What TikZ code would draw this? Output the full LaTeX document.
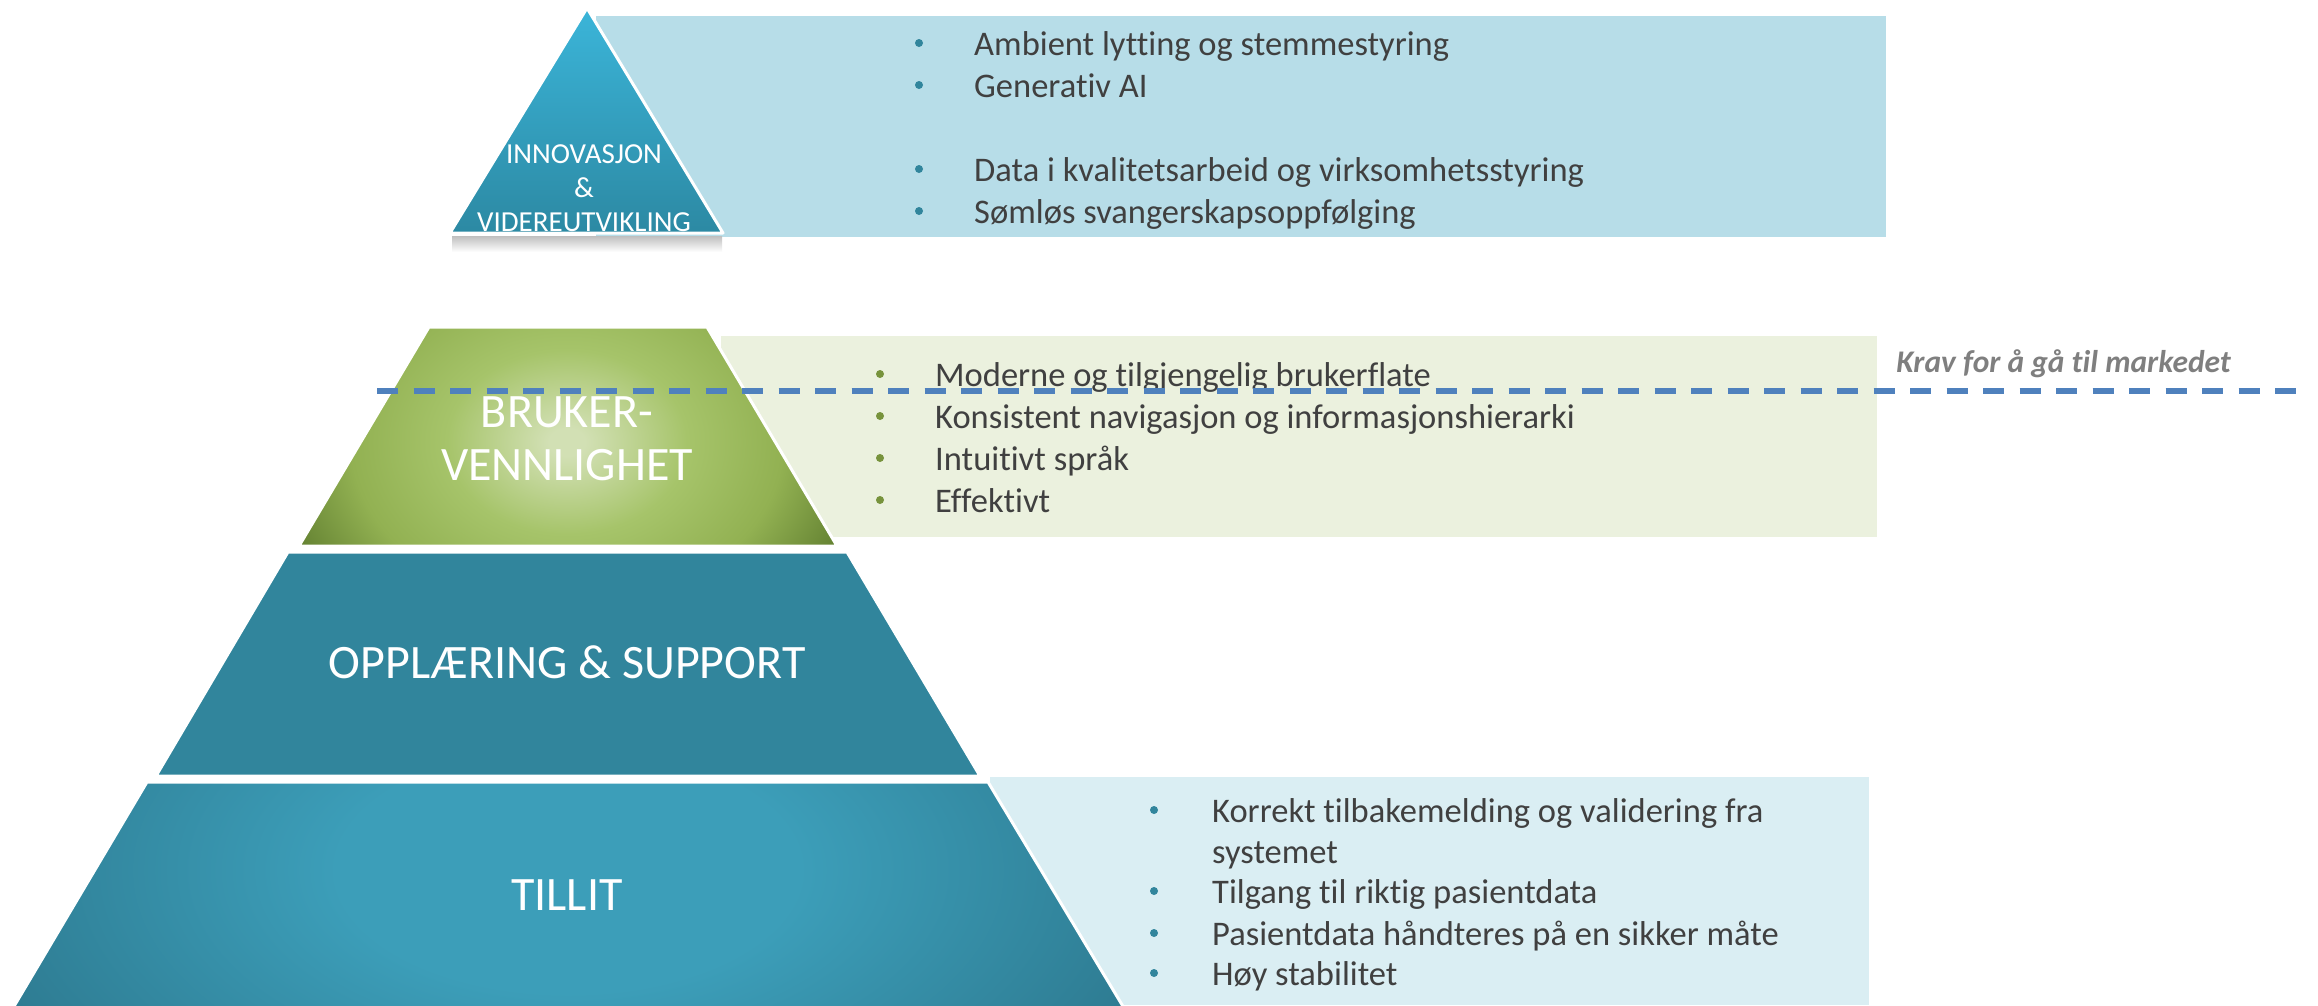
\documentclass[tikz,border=0pt]{standalone}
\usepackage{fontspec}
\setmainfont[Ligatures={NoCommon,NoContextual}]{Carlito}
\usetikzlibrary{positioning,calc}
\definecolor{topblue}{RGB}{59,181,217}
\definecolor{topteal}{RGB}{44,137,163}
\definecolor{innovbox}{RGB}{183,221,232}
\definecolor{brukerlight}{RGB}{210,224,180}
\definecolor{brukermid}{RGB}{166,196,106}
\definecolor{brukerouter}{RGB}{146,177,82}
\definecolor{brukerdark}{RGB}{100,130,50}
\definecolor{brukerbox}{RGB}{235,241,222}
\definecolor{supportteal}{RGB}{49,133,156}
\definecolor{tillitlight}{RGB}{60,158,185}
\definecolor{tillitdark}{RGB}{45,121,143}
\definecolor{tillitbox}{RGB}{218,238,243}
\definecolor{bodygray}{RGB}{64,64,64}
\definecolor{bulletblue}{RGB}{49,133,156}
\definecolor{bulletgreen}{RGB}{119,147,60}
\definecolor{kravblue}{RGB}{79,129,189}
\definecolor{kravgray}{RGB}{127,127,127}
\pgfdeclareradialshading{brukershade}{\pgfpoint{0bp}{0bp}}{color(0bp)=(brukerlight); color(1.5bp)=(brukerlight); color(10bp)=(brukermid); color(18bp)=(brukerouter); color(25bp)=(brukerdark); color(50bp)=(brukerdark)}
\pgfdeclareradialshading{tillitshade}{\pgfpoint{0bp}{0bp}}{color(0bp)=(tillitlight); color(9bp)=(tillitlight); color(25bp)=(tillitdark); color(50bp)=(tillitdark)}

\begin{document}
\begin{tikzpicture}[x=1pt, y=-1pt,
	layer label/.style={text=white, inner sep=0pt, anchor=base, font=\fontsize{48}{56}\selectfont},
	small label/.style={text=white, inner sep=0pt, anchor=base, font=\fontsize{29}{34}\selectfont},
	item text/.style={text=bodygray, inner sep=0pt, anchor=base west, font=\fontsize{34.5}{41}\selectfont},
	item dot/.style={circle, inner sep=0pt, minimum size=8pt},
	layer edge/.style={draw=white, line width=3pt, line join=round},
	krav line/.style={kravblue, line width=5.5pt, dash pattern=on 21pt off 15.5pt}]
	\useasboundingbox (0,0) rectangle (2318,1005);
	
	% Boxes behind the pyramid
	\fill[innovbox] (596,16) rectangle (1886,237);
	\fill[brukerbox] (721,336) rectangle (1877,537);
	\fill[tillitbox] (990,777) rectangle (1869,1005);
	
	% Innovasjon (top)
	\shade[top color=gray!50, bottom color=white] (452,236) rectangle (722,252);
	\shadedraw[top color=topblue, bottom color=topteal, layer edge] (587,8) -- (723,233) -- (450,233) -- cycle;
	
	% Brukervennlighet
	\coordinate (b1) at (429,327);
	\coordinate (b2) at (707,327);
	\coordinate (b3) at (837,546);
	\coordinate (b4) at (299,546);
	\fill[brukerdark] (b1) -- (b2) -- (b3) -- (b4) -- cycle;
	\begin{scope}
		\clip (b1) -- (b2) -- (b3) -- (b4) -- cycle;
		\shade[shading=brukershade] (567,442) ellipse (300 and 230);
	\end{scope}
	\draw[layer edge] (b1) -- (b2) -- (b3) -- (b4) -- cycle;
	
	% Opplaering & support
	\filldraw[fill=supportteal, layer edge] (288,552) -- (847,552) -- (980,776) -- (156,776) -- cycle;
	
	% Tillit
	\coordinate (t1) at (147,782);
	\coordinate (t2) at (988,782);
	\coordinate (t3) at (1124,1008);
	\coordinate (t4) at (13,1008);
	\fill[tillitdark] (t1) -- (t2) -- (t3) -- (t4) -- cycle;
	\begin{scope}
		\clip (t1) -- (t2) -- (t3) -- (t4) -- cycle;
		\shade[shading=tillitshade] (568,870) ellipse (640 and 340);
	\end{scope}
	\draw[layer edge] (t1) -- (t2) -- (t3) -- (t4) -- cycle;
	
	% Layer labels
	\node[small label] (innov1) at (584,163) {INNOVASJON};
	\node[small label] (innov2) at (584,197) {\&};
	\node[small label] (innov3) at (584,231) {VIDEREUTVIKLING};
	\node[layer label] (bruker1) at (567,427) {BRUKER-};
	\node[layer label] (bruker2) at (567,480) {VENNLIGHET};
	\node[layer label] (support) at (567,678) {OPPLÆRING \& SUPPORT};
	\node[layer label] (tillit) at (567,910) {TILLIT};
	
	% Innovasjon items
	\node[item dot, fill=bulletblue] (idot1) at (919,43) {};
	\node[item text] (item1) at (974,55) {Ambient lytting og stemmestyring};
	\node[item dot, fill=bulletblue] (idot2) at (919,85) {};
	\node[item text] (item2) at (974,97) {Generativ AI};
	\node[item dot, fill=bulletblue] (idot3) at (919,169) {};
	\node[item text] (item3) at (974,181) {Data i kvalitetsarbeid og virksomhetsstyring};
	\node[item dot, fill=bulletblue] (idot4) at (919,211) {};
	\node[item text] (item4) at (974,223) {Sømløs svangerskapsoppfølging};
	
	% Brukervennlighet items
	\node[item dot, fill=bulletgreen] (bdot1) at (880,374) {};
	\node[item text] (bitem1) at (935,386) {Moderne og tilgjengelig brukerflate};
	\node[item dot, fill=bulletgreen] (bdot2) at (880,416) {};
	\node[item text] (bitem2) at (935,428) {Konsistent navigasjon og informasjonshierarki};
	\node[item dot, fill=bulletgreen] (bdot3) at (880,458) {};
	\node[item text] (bitem3) at (935,470) {Intuitivt språk};
	\node[item dot, fill=bulletgreen] (bdot4) at (880,500) {};
	\node[item text] (bitem4) at (935,512) {Effektivt};
	
	% Tillit items
	\node[item dot, fill=bulletblue] (tdot1) at (1154,810) {};
	\node[item text] (titem1) at (1212,822) {Korrekt tilbakemelding og validering fra};
	\node[item text] (titem1b) at (1212,863) {systemet};
	\node[item dot, fill=bulletblue] (tdot2) at (1154,891) {};
	\node[item text] (titem2) at (1212,903) {Tilgang til riktig pasientdata};
	\node[item dot, fill=bulletblue] (tdot3) at (1154,933) {};
	\node[item text] (titem3) at (1212,945) {Pasientdata håndteres på en sikker måte};
	\node[item dot, fill=bulletblue] (tdot4) at (1154,973) {};
	\node[item text] (titem4) at (1212,985) {Høy stabilitet};
	
	% Market line
	\coordinate (kravstart) at (377,391);
	\coordinate (kravend) at (2300,391);
	\draw[krav line, draw=gray, opacity=0.35, yshift=-4pt] (kravstart) -- (kravend);
	\draw[krav line] (kravstart) -- (kravend);
	\node[anchor=base east, inner sep=0pt, text=kravgray, font=\fontsize{31.5}{37}\selectfont\bfseries\itshape] (krav) at (2231,372) {Krav for å gå til markedet};
\end{tikzpicture}
\end{document}
